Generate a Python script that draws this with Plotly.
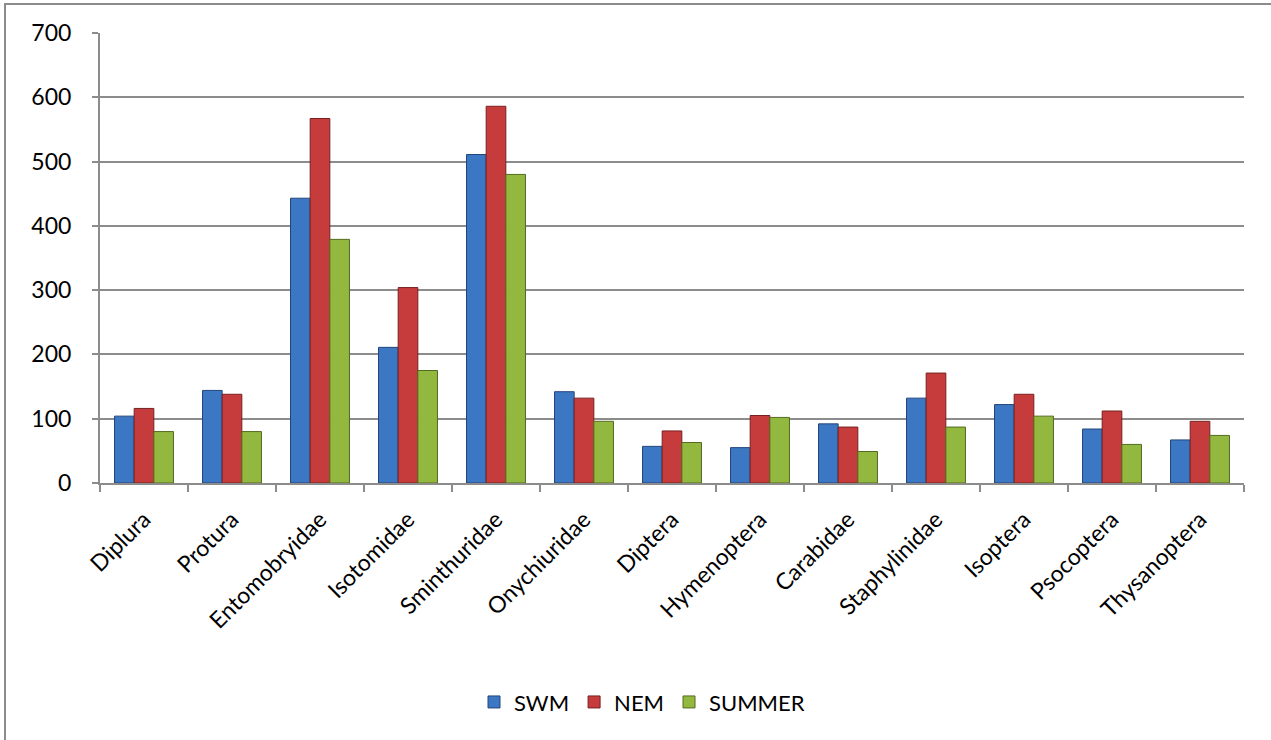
import plotly.graph_objects as go

categories = ["Diplura", "Protura", "Entomobryidae", "Isotomidae", "Sminthuridae",
              "Onychiuridae", "Diptera", "Hymenoptera", "Carabidae", "Staphylinidae",
              "Isoptera", "Psocoptera", "Thysanoptera"]
swm = [104, 144, 443, 211, 511, 142, 57, 55, 92, 132, 122, 84, 67]
nem = [116, 138, 567, 304, 586, 132, 81, 105, 87, 171, 138, 112, 96]
summer = [80, 80, 379, 175, 480, 96, 63, 102, 49, 87, 104, 60, 74]
y_ticks = [0, 100, 200, 300, 400, 500, 600, 700]

series = [
    ("SWM", swm, "#3B77C2", "#22467a"),
    ("NEM", nem, "#C63B3B", "#762020"),
    ("SUMMER", summer, "#93B83F", "#536b20"),
]

fig = go.Figure()
for name, vals, col, edge in series:
    fig.add_trace(go.Bar(
        x=categories, y=vals, name=name,
        marker=dict(color=col, line=dict(color=edge, width=1)),
    ))

W, H = 1271, 740
L, R, T, B = 100, 27, 33, 257
FONT = "Lato, Open Sans, sans-serif"
fig.update_layout(
    width=W, height=H,
    margin=dict(l=L, r=R, t=T, b=B, pad=0),
    paper_bgcolor="white", plot_bgcolor="white",
    barmode="group", bargap=0.33, bargroupgap=0,
    font=dict(family=FONT, size=23, color="black"),
    legend=dict(orientation="h", x=(642 - L) / (W - L - R), xanchor="center",
                y=-0.487, yanchor="middle",
                font=dict(size=22), itemwidth=30, traceorder="normal"),
    showlegend=True,
)
fig.update_xaxes(
    type="category", tickangle=-45, tickson="boundaries", ticks="outside",
    ticklen=7, tickcolor="#8c8c8c", tickwidth=1.5, showline=True, linecolor="#8c8c8c",
    linewidth=2, showgrid=False, tickfont=dict(size=23), ticklabelstandoff=12,
)
fig.update_yaxes(
    range=[0, 700], tickvals=y_ticks, ticks="outside", ticklen=6, tickcolor="#8c8c8c",
    tickwidth=1.5, showline=True, linecolor="#8c8c8c", linewidth=2, showgrid=True,
    gridcolor="#8c8c8c", gridwidth=1.5, zeroline=False, tickfont=dict(size=23),
    ticklabelstandoff=16,
)

# outer chart frame
pw = W - L - R
ph = H - T - B
fig.add_shape(type="rect", xref="paper", yref="paper",
              x0=(5 - L) / pw, x1=(W + 5 - L) / pw,
              y0=-(B + 10) / ph, y1=1 + (T - 4) / ph,
              line=dict(color="#8c8c8c", width=2), fillcolor="rgba(0,0,0,0)", layer="below")

fig.write_html("out.html", config={"displayModeBar": False},
               post_script="document.body.style.margin='0';document.body.style.overflow='hidden';")
